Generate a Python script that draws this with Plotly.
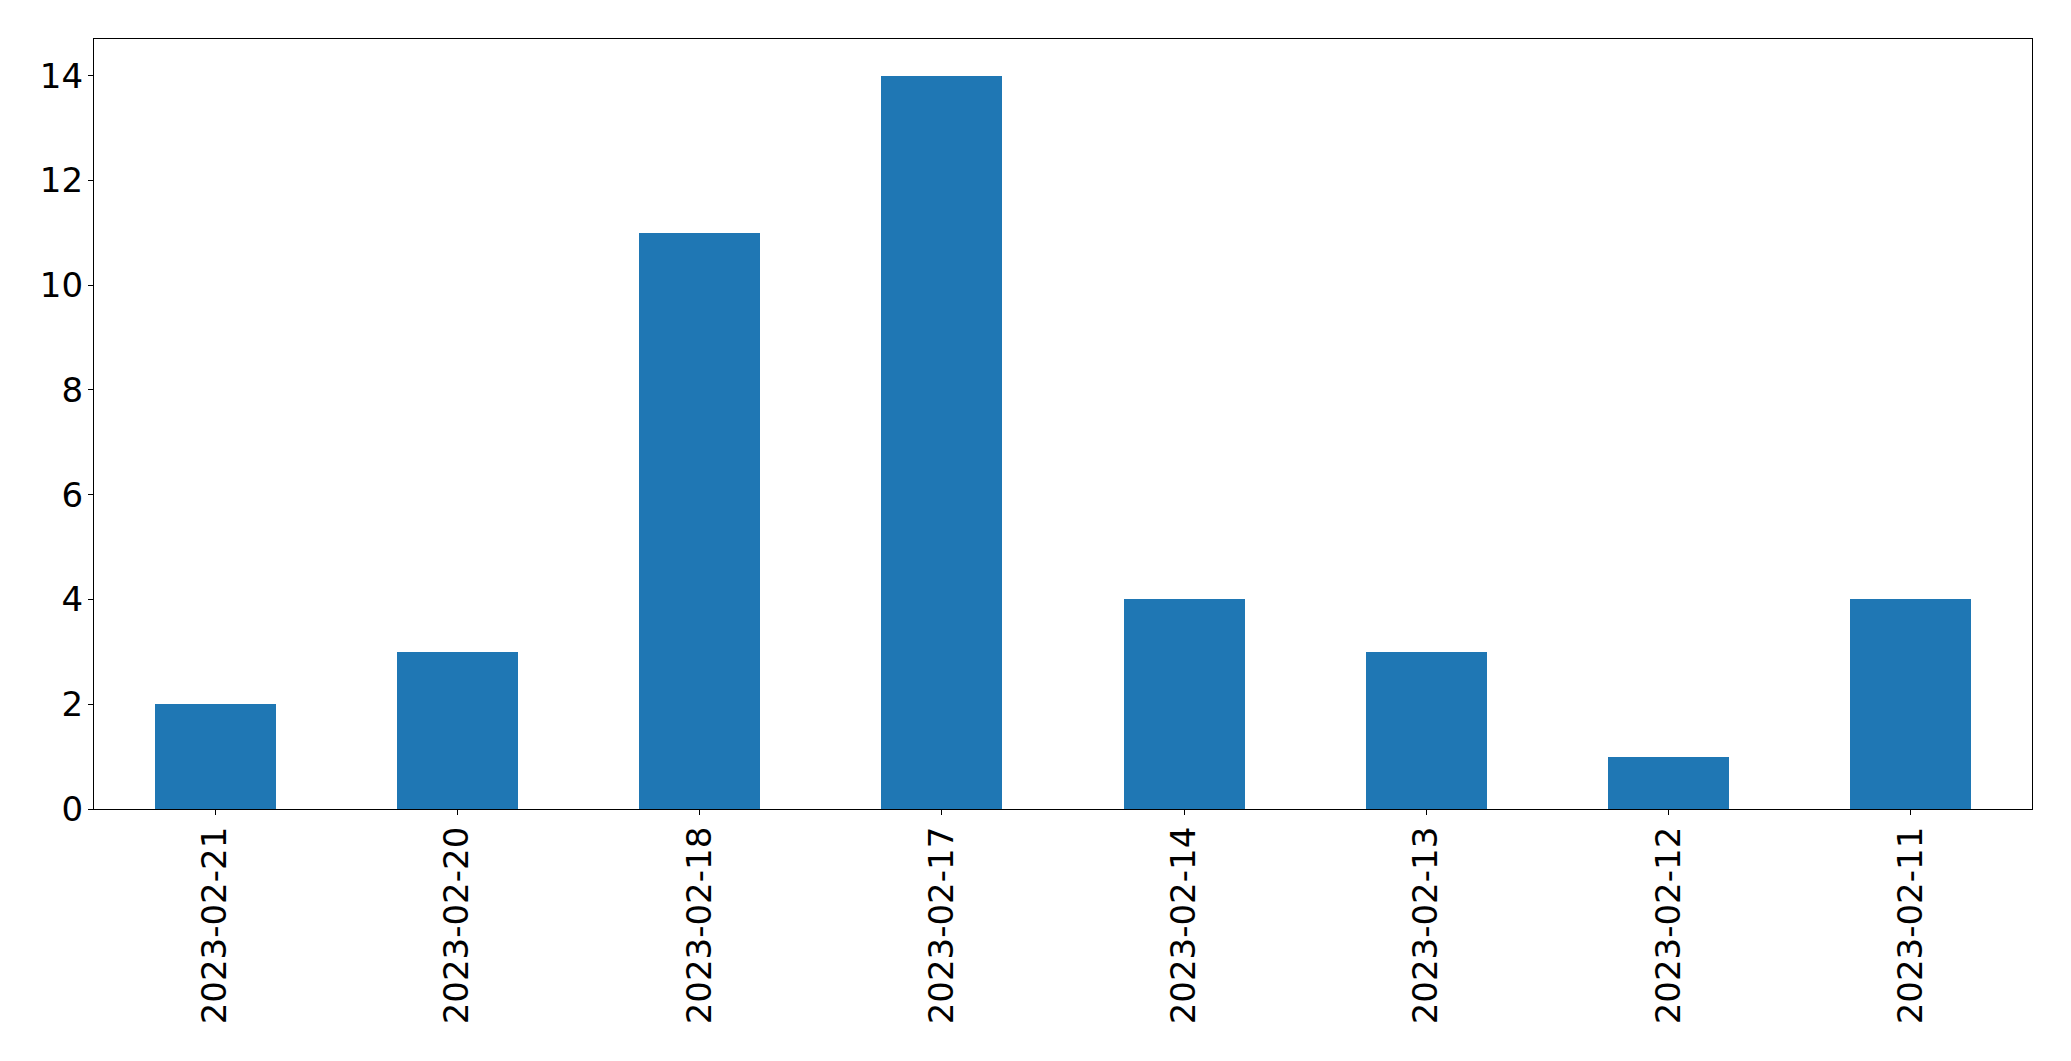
import plotly.graph_objects as go

dates = ["2023-02-21", "2023-02-20", "2023-02-18", "2023-02-17",
         "2023-02-14", "2023-02-13", "2023-02-12", "2023-02-11"]
counts = [2, 3, 11, 14, 4, 3, 1, 4]
y_ticks = [0, 2, 4, 6, 8, 10, 12, 14]

fig = go.Figure(go.Bar(x=dates, y=counts, width=0.5, marker_color="#1f77b4",
                       marker_line_width=0))

axis_common = dict(showline=True, linecolor="black", linewidth=1.3, mirror=True,
                   showgrid=False, zeroline=False, ticks="outside", ticklen=5,
                   tickwidth=1.3, tickcolor="black",
                   tickfont=dict(family="DejaVu Sans", size=34, color="black"))

fig.update_layout(
    width=2063, height=1053,
    margin=dict(l=86, r=39, t=31, b=252, autoexpand=False),
    plot_bgcolor="white", paper_bgcolor="white",
    showlegend=False, bargap=0,
    xaxis=dict(type="category", range=[-0.5, 7.5], tickangle=-90,
               ticklabelstandoff=-2, **axis_common),
    yaxis=dict(range=[0, 14.7], tickvals=y_ticks, ticklabelstandoff=-2, **axis_common),
)

fig.write_html("out.html")
